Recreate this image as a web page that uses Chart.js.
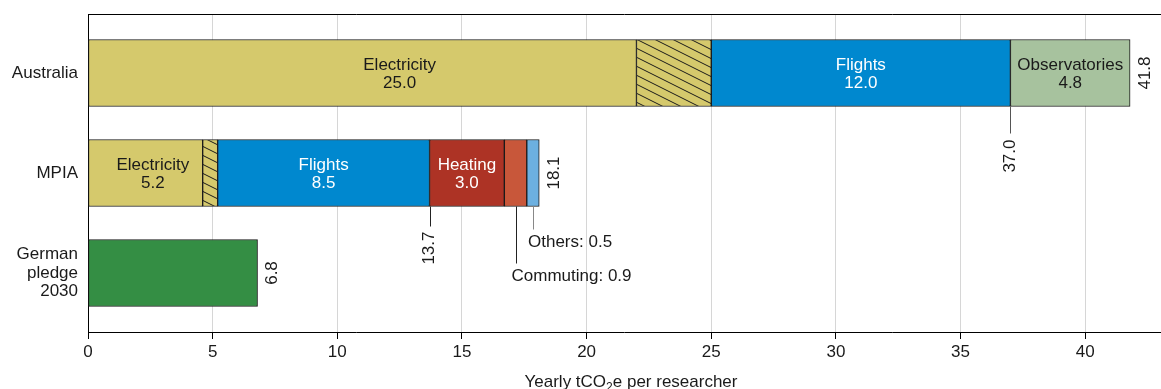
<!DOCTYPE html>
<html>
<head>
<meta charset="utf-8">
<script src="https://cdn.jsdelivr.net/npm/chart.js@4/dist/chart.umd.min.js"></script>
<style>
  html, body { margin: 0; padding: 0; background: #fff; }
  #wrap { width: 1161px; height: 389px; }
</style>
</head>
<body>
<div id="wrap"><canvas id="c" width="1161" height="389"></canvas></div>
<script>
// Rows (top to bottom) and x-axis ticks
const categories = [['Australia'], ['MPIA'], ['German', 'pledge', '2030']];
const xTicks = [0, 5, 10, 15, 20, 25, 30, 35, 40];

// Yearly tCO2e per researcher, by source (null = not part of that row)
const electricity        = [22.0, 4.6, null];
const electricityHatched = [3.0, 0.6, null];
const flights            = [12.0, 8.5, null];
const observatories      = [4.8, null, null];
const heating            = [null, 3.0, null];
const commuting          = [null, 0.9, null];
const others             = [null, 0.5, null];
const pledge             = [null, null, 6.8];

const FONT = '"Liberation Sans", Arial, Helvetica, sans-serif';
const INK = '#1a1a1a';

// diagonal hatch fill for the hatched part of electricity
function hatchPattern(bg) {
  const t = document.createElement('canvas');
  t.width = 18; t.height = 9;
  const g = t.getContext('2d');
  g.fillStyle = bg;
  g.fillRect(0, 0, 18, 9);
  g.strokeStyle = '#1a1a1a';
  g.lineWidth = 1;
  g.beginPath();
  g.moveTo(-2, -1); g.lineTo(20, 10);
  g.moveTo(-2, 8); g.lineTo(2, 10);
  g.moveTo(16, -1); g.lineTo(20, 1);
  g.stroke();
  return g.createPattern(t, 'repeat');
}

const ELEC = '#d5c96c';
const BAR_THICKNESS = 67;
const points = arr => arr.map((v, i) => ({ x: v, y: i })).filter(p => p.x !== null);

function ds(label, arr, color) {
  return {
    label, data: points(arr), backgroundColor: color,
    borderColor: '#1a1a1a', borderWidth: 1, borderSkipped: false,
    barThickness: BAR_THICKNESS
  };
}

const sum = (...arrs) => arrs[0].map((_, i) => arrs.reduce((s, a) => s + (a[i] || 0), 0));
const electricityTotal = sum(electricity, electricityHatched);
const rowTotals = sum(electricity, electricityHatched, flights, observatories, heating, commuting, others, pledge);

const fmt = v => v.toFixed(1);

// labels drawn on and around the bars
const annotate = {
  id: 'annotate',
  afterDatasetsDraw(chart) {
    const { ctx, scales: { x, y } } = chart;
    const half = BAR_THICKNESS / 2;
    ctx.save();
    ctx.font = '17px ' + FONT;

    function inBar(row, from, value, name, color) {
      const cx = x.getPixelForValue(from + value / 2);
      const cy = y.getPixelForValue(row);
      ctx.fillStyle = color;
      ctx.textAlign = 'center';
      ctx.textBaseline = 'middle';
      ctx.fillText(name, cx, cy - 8);
      ctx.fillText(fmt(value), cx, cy + 10);
    }
    function rotated(px, py, text, align) {
      ctx.save();
      ctx.translate(px, py);
      ctx.rotate(-Math.PI / 2);
      ctx.fillStyle = INK;
      ctx.textAlign = align;
      ctx.textBaseline = 'middle';
      ctx.fillText(text, 0, 0);
      ctx.restore();
    }
    function leader(px, y0, y1, color) {
      const lx = Math.round(px) + 0.5;
      ctx.strokeStyle = color;
      ctx.lineWidth = 1;
      ctx.beginPath();
      ctx.moveTo(lx, y0);
      ctx.lineTo(lx, y1);
      ctx.stroke();
    }

    // Australia
    inBar(0, 0, electricityTotal[0], 'Electricity', INK);
    inBar(0, electricityTotal[0], flights[0], 'Flights', '#ffffff');
    inBar(0, electricityTotal[0] + flights[0], observatories[0], 'Observatories', INK);
    // MPIA
    inBar(1, 0, electricityTotal[1], 'Electricity', INK);
    inBar(1, electricityTotal[1], flights[1], 'Flights', '#ffffff');
    inBar(1, electricityTotal[1] + flights[1], heating[1], 'Heating', '#ffffff');

    // totals at bar ends
    for (let r = 0; r < categories.length; r++) {
      rotated(x.getPixelForValue(rowTotals[r]) + 15, y.getPixelForValue(r), fmt(rowTotals[r]), 'center');
    }

    // running sums below bars
    const aus37 = electricityTotal[0] + flights[0];
    const b0 = y.getPixelForValue(0) + half;
    leader(x.getPixelForValue(aus37), b0, b0 + 27, '#555');
    rotated(x.getPixelForValue(aus37), b0 + 33, fmt(aus37), 'right');

    const mpia = electricityTotal[1] + flights[1];
    const b1 = y.getPixelForValue(1) + half;
    leader(x.getPixelForValue(mpia), b1, b1 + 20, '#222');
    rotated(x.getPixelForValue(mpia), b1 + 25, fmt(mpia), 'right');

    // small segments with side labels
    const hEnd = mpia + heating[1];
    const cx = x.getPixelForValue(hEnd + commuting[1] / 2);
    leader(cx, b1, b1 + 57, '#222');
    const ox = x.getPixelForValue(hEnd + commuting[1] + others[1] / 2);
    leader(ox, b1, b1 + 23, '#888');
    ctx.fillStyle = INK;
    ctx.textAlign = 'left';
    ctx.textBaseline = 'middle';
    ctx.fillText('Others: ' + others[1].toFixed(1), ox - 5, b1 + 36);
    ctx.fillText('Commuting: ' + commuting[1].toFixed(1), cx - 4, b1 + 70);
    ctx.restore();
  },
  afterDraw(chart) {
    const { ctx, chartArea } = chart;
    ctx.save();
    // frame line along the top of the plot
    ctx.strokeStyle = '#000';
    ctx.lineWidth = 1;
    ctx.beginPath();
    ctx.moveTo(chartArea.left, chartArea.top + 0.5);
    ctx.lineTo(chart.width, chartArea.top + 0.5);
    ctx.stroke();

    // axis title with subscript
    const parts = [['Yearly tCO', 17, 0], ['2', 12, 4], ['e per researcher', 17, 0]];
    let w = 0;
    parts.forEach(p => { ctx.font = p[1] + 'px ' + FONT; w += ctx.measureText(p[0]).width; });
    let px = 631 - w / 2;
    const base = 387;
    ctx.fillStyle = INK;
    ctx.textBaseline = 'alphabetic';
    ctx.textAlign = 'left';
    parts.forEach(p => {
      ctx.font = p[1] + 'px ' + FONT;
      ctx.fillText(p[0], px, base + p[2]);
      px += ctx.measureText(p[0]).width;
    });
    ctx.restore();
  }
};

new Chart(document.getElementById('c'), {
  type: 'bar',
  data: {
    datasets: [
      ds('Electricity', electricity, ELEC),
      ds('Electricity (hatched)', electricityHatched, hatchPattern(ELEC)),
      ds('Flights', flights, '#0088cf'),
      ds('Observatories', observatories, '#a7c29e'),
      ds('Heating', heating, '#ad3325'),
      ds('Commuting', commuting, '#c8573a'),
      ds('Others', others, '#6cb0e0'),
      ds('German pledge 2030', pledge, '#348e44')
    ]
  },
  options: {
    indexAxis: 'y',
    responsive: false,
    animation: false,
    devicePixelRatio: 1,
    layout: { padding: { top: 14, right: 1, left: 0, bottom: 0 } },
    plugins: { legend: { display: false }, tooltip: { enabled: false } },
    scales: {
      x: {
        type: 'linear', min: 0, max: 43, stacked: true, position: 'bottom',
        afterBuildTicks: s => { s.ticks = xTicks.map(v => ({ value: v })); },
        afterFit: s => { s.height = 57; },
        grid: {
          color: c => (c.tick && c.tick.value === 0) ? 'rgba(0,0,0,0)' : '#d6d6d6',
          tickColor: '#000', tickLength: 7, lineWidth: 1
        },
        border: { display: true, color: '#000', width: 1 },
        ticks: { padding: 3, color: INK, maxRotation: 0, font: { family: FONT, size: 17 } }
      },
      y: {
        type: 'linear', reverse: true, min: -0.59, max: 2.59, stacked: true, offset: false,
        afterBuildTicks: s => { s.ticks = categories.map((_, i) => ({ value: i })); },
        afterFit: s => { s.width = 88; s.paddingTop = 0; s.paddingBottom = 0; },
        grid: { display: false, drawTicks: false },
        border: { display: true, color: '#000', width: 1 },
        ticks: {
          padding: 10, color: INK,
          callback: v => categories[v],
          font: { family: FONT, size: 17, lineHeight: 1.1 }
        }
      }
    }
  },
  plugins: [annotate]
});
</script>
</body>
</html>
